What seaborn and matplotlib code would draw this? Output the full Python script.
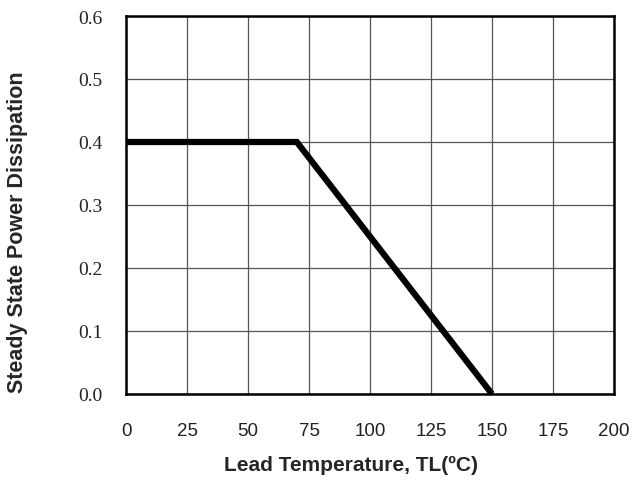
import matplotlib
matplotlib.use("Agg")
import matplotlib.pyplot as plt
import seaborn as sns
import pandas as pd

temperature = [0, 70, 150]
power = [0.4, 0.4, 0.0]
x_ticks = [0, 25, 50, 75, 100, 125, 150, 175, 200]
y_ticks = [0.0, 0.1, 0.2, 0.3, 0.4, 0.5, 0.6]

sns.set_theme(style="white")
plt.rcParams['font.family'] = ['Liberation Sans', 'DejaVu Sans']

df = pd.DataFrame({"T": temperature, "P": power})

fig = plt.figure(figsize=(6.32, 4.81), dpi=100)
ax = fig.add_axes([126/632, 1-395/481, (614-126)/632, (395-17)/481])

sns.lineplot(data=df, x="T", y="P", ax=ax, color="black", linewidth=4.5,
             solid_capstyle="butt", solid_joinstyle="miter", zorder=5)

ax.set_xlim(0, 200)
ax.set_ylim(0, 0.6)
ax.set_xticks(x_ticks)
ax.set_yticks(y_ticks)
ax.set_xticklabels([str(v) for v in x_ticks], fontsize=13.5, color="#222222",
                   family="Liberation Sans")
ax.set_yticklabels([f"{v:.1f}" for v in y_ticks], fontsize=14, color="#222222",
                   family="Liberation Serif")
ax.tick_params(axis="x", length=0, pad=20.5)
ax.tick_params(axis="y", length=0, pad=17)
ax.grid(True, color="#555555", linewidth=0.9)
for s in ax.spines.values():
    s.set_color("black")
    s.set_linewidth(1.8)
ax.set_xlabel("Lead Temperature, TL(ºC)", fontsize=15, fontweight="bold")
ax.set_ylabel("Steady State Power Dissipation", fontsize=15.5, fontweight="bold")
ax.xaxis.set_label_coords(0.461, -0.160)
ax.yaxis.set_label_coords(-0.200, 0.43)

fig.savefig("out.png", dpi=100)
